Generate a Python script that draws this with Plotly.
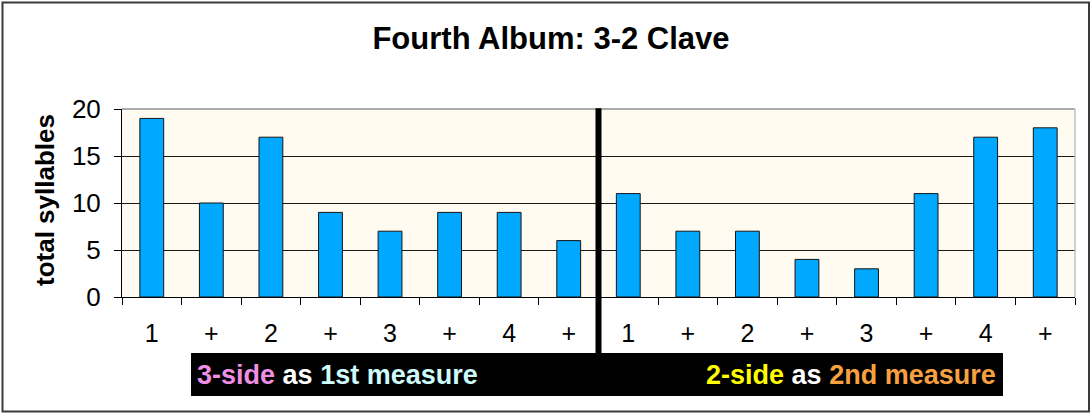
import plotly.graph_objects as go

# Syllable counts per beat position across two clave measures
beat_labels = ["1", "+", "2", "+", "3", "+", "4", "+",
               "1", "+", "2", "+", "3", "+", "4", "+"]
syllables = [19, 10, 17, 9, 7, 9, 9, 6,
             11, 7, 7, 4, 3, 11, 17, 18]
y_ticks = [0, 5, 10, 15, 20]

W, H = 1092, 413
L, R, T, B = 122, 1075, 109, 297  # plot-area edges in pixels


def px_x(px):
    return (px - L) / (R - L)


def px_y(py):
    return (B - py) / (B - T)


positions = list(range(len(syllables)))
mid = (len(syllables) - 1) / 2

fig = go.Figure(
    go.Bar(
        x=positions,
        y=syllables,
        width=0.4,
        marker=dict(color="#00A8FF", line=dict(color="#141414", width=1)),
        hoverinfo="y",
    )
)

font = "Liberation Sans, Arial, sans-serif"

fig.update_layout(
    width=W,
    height=H,
    margin=dict(l=L, r=W - R, t=T, b=H - B, autoexpand=False),
    paper_bgcolor="white",
    plot_bgcolor="#FFFBF1",
    showlegend=False,
    font=dict(family=font, color="black"),
    title=dict(
        text="<b>Fourth Album: 3-2 Clave</b>",
        font=dict(size=31, family=font, color="black"),
        x=551 / W,
        xref="container",
        xanchor="center",
        y=1 - 38 / H,
        yref="container",
        yanchor="middle",
    ),
    xaxis=dict(
        range=[-0.5, len(syllables) - 0.5],
        tickmode="array",
        tickvals=positions,
        ticktext=beat_labels,
        ticks="",
        showline=True,
        linecolor="black",
        linewidth=1,
        showgrid=False,
        zeroline=False,
        tickfont=dict(size=25, family=font, color="black"),
        ticklabelstandoff=14,
        minor=dict(
            tickmode="array",
            tickvals=[p - 0.5 for p in positions] + [positions[-1] + 0.5],
            ticks="outside",
            ticklen=7,
            tickcolor="black",
            tickwidth=1,
            showgrid=False,
        ),
        fixedrange=True,
    ),
    yaxis=dict(
        range=[0, 20],
        tickmode="array",
        tickvals=y_ticks,
        ticks="outside",
        ticklen=7,
        tickcolor="black",
        showline=True,
        linecolor="black",
        linewidth=1,
        showgrid=True,
        gridcolor="#1a1a1a",
        gridwidth=1,
        zeroline=False,
        tickfont=dict(size=26, family=font, color="black"),
        ticklabelstandoff=8,
        fixedrange=True,
    ),
)

shapes = [
    # outer chart frame
    dict(type="rect", xref="paper", yref="paper",
         x0=px_x(2.5), x1=px_x(1089), y0=px_y(2.5), y1=px_y(411.5),
         line=dict(color="#3a3a3a", width=2), fillcolor="rgba(0,0,0,0)",
         layer="below"),
    # plot-area top and right edges
    dict(type="line", xref="paper", yref="paper", x0=0, x1=1, y0=1, y1=1,
         line=dict(color="#ababab", width=2)),
    dict(type="line", xref="paper", yref="paper", x0=1, x1=1, y0=0, y1=1,
         line=dict(color="#c0c0c0", width=1.5)),
    # divider between the two measures
    dict(type="line", xref="x", yref="paper", x0=mid, x1=mid,
         y0=1.004, y1=px_y(353),
         line=dict(color="black", width=6)),
    # caption band
    dict(type="rect", xref="paper", yref="paper",
         x0=px_x(191), x1=px_x(1003), y0=px_y(353), y1=px_y(396),
         line=dict(width=0), fillcolor="black"),
]
fig.update_layout(shapes=shapes)

sp = "&nbsp;"
left_caption = (
    f"<b><span style='color:#F08EE4'>3-side</span>{sp}"
    f"<span style='color:#FFFFFF'>as</span>{sp}"
    f"<span style='color:#CFFBFB'>1st measure</span></b>"
)
right_caption = (
    f"<b><span style='color:#FFFF00'>2-side</span>{sp}"
    f"<span style='color:#FFFFFF'>as</span>{sp}"
    f"<span style='color:#F7A040'>2nd measure</span></b>"
)

fig.add_annotation(
    text=left_caption, xref="paper", yref="paper",
    x=px_x(195), y=px_y(375), xanchor="left", yanchor="middle",
    showarrow=False, font=dict(size=27, family=font),
)
fig.add_annotation(
    text=right_caption, xref="paper", yref="paper",
    x=px_x(998), y=px_y(375), xanchor="right", yanchor="middle",
    showarrow=False, font=dict(size=27, family=font),
)
fig.add_annotation(
    text="<b>total syllables</b>", xref="paper", yref="paper",
    x=px_x(45), y=px_y(200), xanchor="center", yanchor="middle",
    textangle=-90, showarrow=False,
    font=dict(size=26, family=font, color="black"),
)

fig.write_html("out.html")
